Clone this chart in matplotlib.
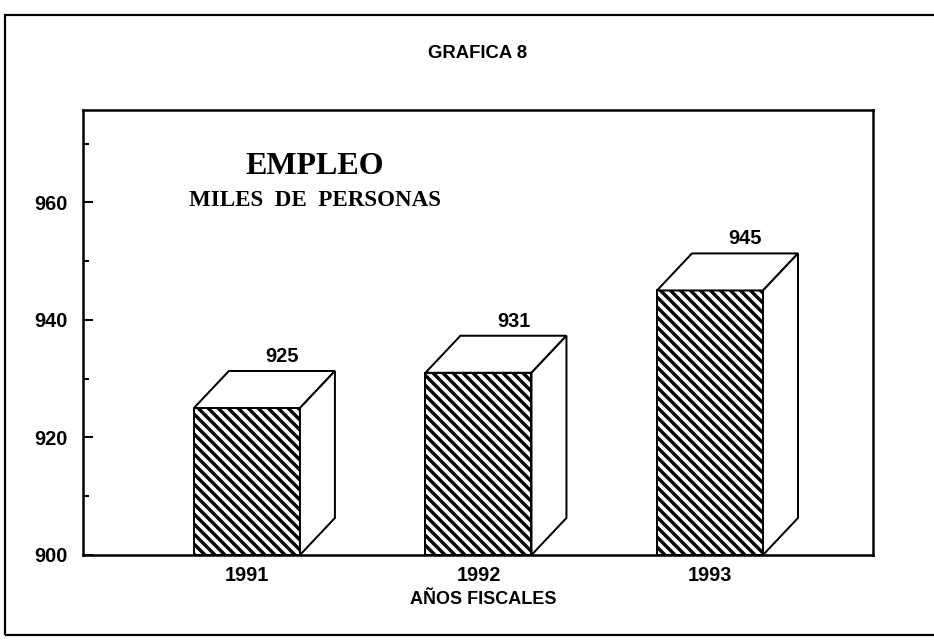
import matplotlib
matplotlib.use('Agg')
import matplotlib.pyplot as plt
from matplotlib.patches import Rectangle, Polygon

# datos
years = ['1991', '1992', '1993']
empleo = [925, 931, 945]
yticks_major = [900, 920, 940, 960]
yticks_minor = [910, 930, 950, 970]

DPI = 120
PT = 72 / DPI  # px -> pt
W, H = 934, 642

plt.rcParams['hatch.linewidth'] = 3.4 * PT
plt.rcParams['hatch.color'] = 'black'

fig = plt.figure(figsize=(W / DPI, H / DPI), dpi=DPI)
ax = fig.add_axes([83 / W, 1 - 555 / H, 790 / W, 445 / H])

base = 900
w = 0.458          # ancho de la cara frontal
dx, dy = 0.151, 6.3  # profundidad 3d
lw = 2.0 * PT

for i, (yr, v) in enumerate(zip(years, empleo)):
    x0, x1 = i - w / 2, i + w / 2
    ax.add_patch(Rectangle((x0, base), w, v - base, facecolor='white',
                           edgecolor='black', hatch='\\\\\\\\', lw=lw, zorder=3))
    top = [(x0, v), (x0 + dx, v + dy), (x1 + dx, v + dy), (x1, v)]
    ax.add_patch(Polygon(top, closed=True, facecolor='white',
                         edgecolor='black', lw=lw, zorder=3))
    side = [(x1, base), (x1, v), (x1 + dx, v + dy), (x1 + dx, base + dy)]
    ax.add_patch(Polygon(side, closed=True, facecolor='white',
                         edgecolor='black', lw=lw, zorder=3))
    ax.annotate(str(v), (i + dx, v + dy), xytext=(0, 5 * PT),
                textcoords='offset points', ha='center', va='bottom',
                fontsize=20 * PT, fontweight='bold', family='Liberation Sans')

ax.set_xlim(-0.708, 2.704)
ax.set_ylim(900, 975.7)
ax.set_xticks(range(len(years)))
ax.set_xticklabels(years)
ax.set_yticks(yticks_major)
ax.set_yticks(yticks_minor, minor=True)
ax.tick_params(axis='x', length=0, pad=11 * PT)
ax.tick_params(axis='y', which='major', direction='in', length=10 * PT,
               width=2 * PT, pad=15 * PT)
ax.tick_params(axis='y', which='minor', direction='in', length=6 * PT,
               width=2 * PT)
for lab in ax.get_xticklabels() + ax.get_yticklabels():
    lab.set_fontsize(20 * PT)
    lab.set_fontweight('bold')
    lab.set_family('Liberation Sans')
for s in ax.spines.values():
    s.set_linewidth(2.5 * PT)

fig.text(315 / W, 1 - 167 / H, 'EMPLEO', ha='center', va='center',
         fontsize=32 * PT, fontweight='bold', family='Liberation Serif')
fig.text(315 / W, 1 - 200 / H, 'MILES  DE  PERSONAS', ha='center', va='center',
         fontsize=23 * PT, fontweight='bold', family='Liberation Serif')

fig.text(478 / W, 1 - 54 / H, 'GRAFICA 8', ha='center', va='center',
         fontsize=18.5 * PT, fontweight='bold', family='Liberation Sans')
fig.text(483 / W, 1 - 600 / H, 'AÑOS FISCALES', ha='center', va='center',
         fontsize=18 * PT, fontweight='bold', family='Liberation Sans')

# marco exterior
fig.add_artist(Rectangle((5 / W, 1 - 635 / H), 1.0, 620 / H,
                         transform=fig.transFigure, fill=False,
                         edgecolor='black', lw=2.2 * PT))

fig.savefig('out.png', dpi=DPI)
